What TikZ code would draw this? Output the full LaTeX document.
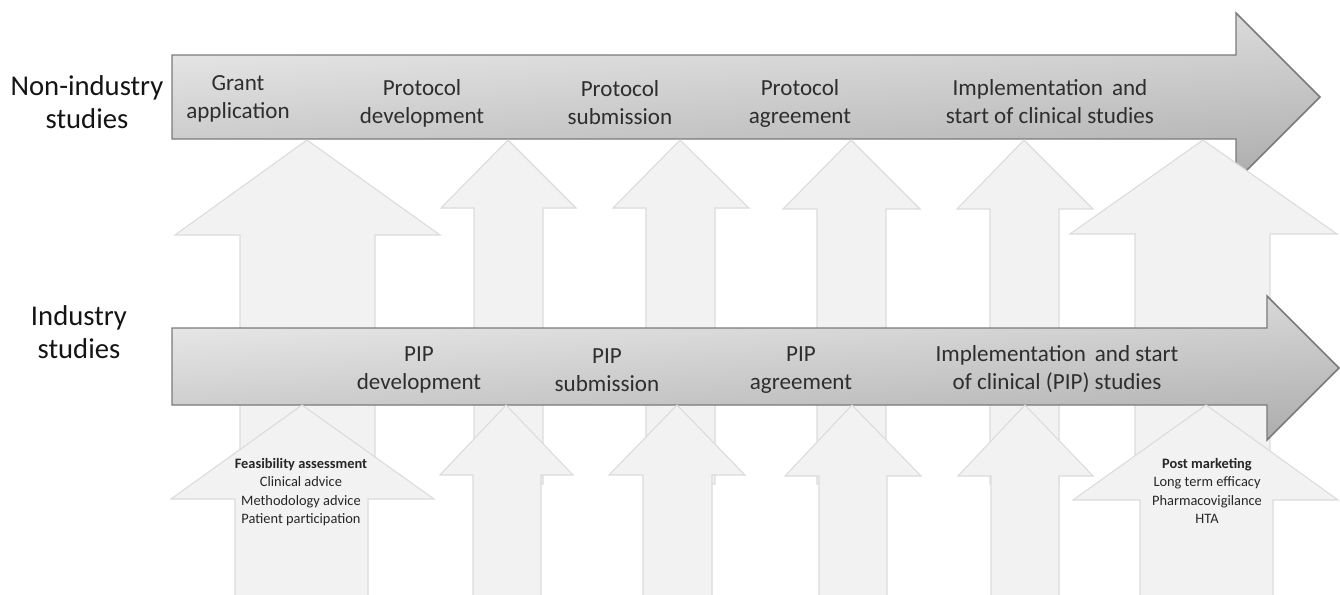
\documentclass[tikz,border=0pt]{standalone}
\usepackage{fontspec}
\setmainfont{Carlito}

\begin{document}
\begin{tikzpicture}[x=0.75pt, y=-0.75pt, line join=miter,
    band/.style={draw=black!52, line width=1.1pt, top color=gray!14, bottom color=gray!64, shading angle=4},
    uparrow/.style={draw=gray!28, fill=gray!10, line width=0.8pt},
    steplabel/.style={align=center, text=black!82, font=\fontsize{17.3}{21}\selectfont},
    sidelabel/.style={align=center, text=black!92, font=\fontsize{21.5}{25}\selectfont},
    boxtext/.style={align=center, text=black!85, font=\fontsize{10.8}{13.7}\selectfont}]
    \useasboundingbox (0,0) rectangle (1340,594);

    \shade[band] (172,55) -- (1236,55) -- (1236,13) -- (1320,97) -- (1236,181) -- (1236,139) -- (172,139) -- cycle;

    \draw[uparrow] (307,140) -- (440,235) -- (375,235) -- (375,484) -- (240,484) -- (240,235) -- (175,235) -- cycle;
    \draw[uparrow] (508,140) -- (576,208) -- (543,208) -- (543,484) -- (474,484) -- (474,208) -- (441,208) -- cycle;
    \draw[uparrow] (680,140) -- (749,208) -- (715,208) -- (715,484) -- (646,484) -- (646,208) -- (613,208) -- cycle;
    \draw[uparrow] (851,140) -- (920,209) -- (886,209) -- (886,484) -- (817,484) -- (817,209) -- (783,209) -- cycle;
    \draw[uparrow] (1024,140) -- (1093,209) -- (1059,209) -- (1059,484) -- (990,484) -- (990,209) -- (957,209) -- cycle;
    \draw[uparrow] (1203,140) -- (1337,234) -- (1270,234) -- (1270,484) -- (1135,484) -- (1135,234) -- (1070,234) -- cycle;

    \shade[band] (172,328) -- (1267,328) -- (1267,296) -- (1339,368) -- (1267,440) -- (1267,405) -- (172,405) -- cycle;

    \draw[uparrow] (302,405) -- (434,499) -- (368,499) -- (368,600) -- (235,600) -- (235,499) -- (171,499) -- cycle;
    \draw[uparrow] (506,405) -- (573,475) -- (541,475) -- (541,600) -- (473,600) -- (473,475) -- (440,475) -- cycle;
    \draw[uparrow] (677,405) -- (745,475) -- (712,475) -- (712,600) -- (643,600) -- (643,475) -- (609,475) -- cycle;
    \draw[uparrow] (852,405) -- (921,476) -- (887,476) -- (887,600) -- (819,600) -- (819,476) -- (785,476) -- cycle;
    \draw[uparrow] (1025,405) -- (1093,476) -- (1059,476) -- (1059,600) -- (991,600) -- (991,476) -- (958,476) -- cycle;
    \draw[uparrow] (1206,405) -- (1338,500) -- (1273,500) -- (1273,600) -- (1140,600) -- (1140,500) -- (1073,500) -- cycle;

    \node[sidelabel] (N) at (87,102) {Non-industry\\studies};
    \node[sidelabel] (I) at (79,332) {Industry\\studies};

    \node[steplabel] (G) at (238,99) {Grant\\application};
    \node[steplabel] (PD) at (422,103) {Protocol\\development};
    \node[steplabel] (PS) at (620,103) {Protocol\\submission};
    \node[steplabel] (PA) at (800,103) {Protocol\\agreement};
    \node[steplabel] (IS) at (1050,102) {Implementation\, and\\start of clinical studies};

    \node[steplabel] (QD) at (419,370) {PIP\\development};
    \node[steplabel] (QS) at (607,370) {PIP\\submission};
    \node[steplabel] (QA) at (801,370) {PIP\\agreement};
    \node[steplabel] (QI) at (1057,369) {Implementation\, and start\\of clinical (PIP) studies};

    \node[boxtext] (F) at (301,492) {\textbf{Feasibility assessment}\\Clinical advice\\Methodology advice\\Patient participation};
    \node[boxtext] (M) at (1207,491) {\textbf{Post marketing}\\Long term efficacy\\Pharmacovigilance\\HTA};
\end{tikzpicture}
\end{document}
